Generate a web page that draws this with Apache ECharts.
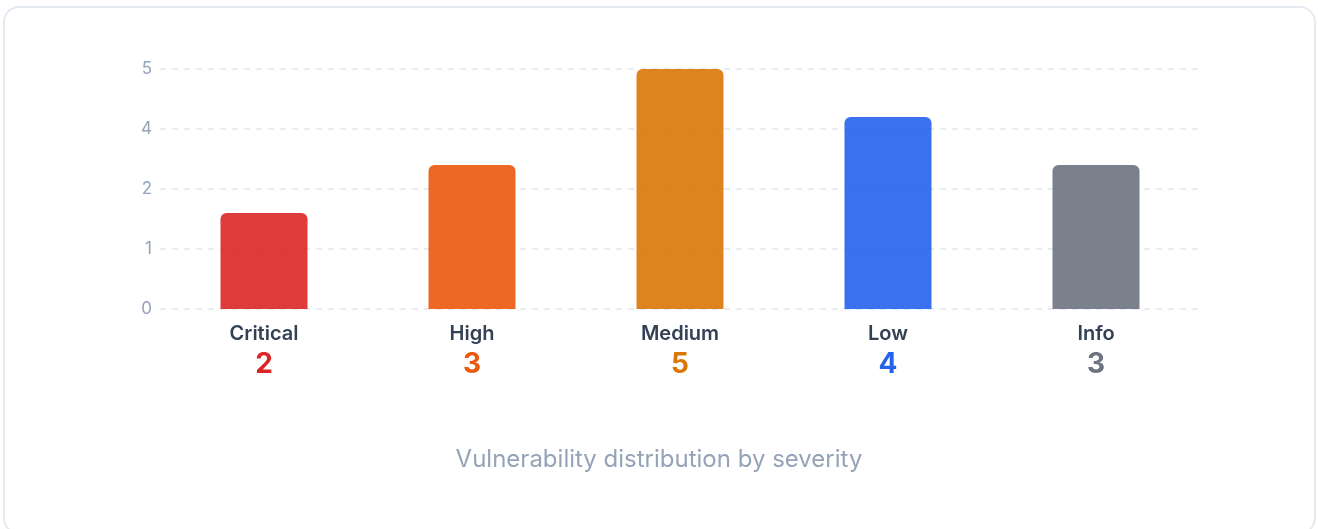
<!DOCTYPE html>
<html>
<head>
<meta charset="utf-8">
<script src="https://cdn.jsdelivr.net/npm/echarts@6/dist/echarts.min.js"></script>
<style>
  html, body { margin: 0; padding: 0; background: #ffffff; }
  .card {
    position: absolute; left: 3px; top: 6px; width: 1309px; height: 524px;
    border: 2px solid #e4e9f2; border-radius: 16px; background: #fff;
  }
  #chart { position: absolute; left: 0; top: 0; width: 1318px; height: 529px; }
</style>
</head>
<body>
<div class="card"></div>
<div id="chart"></div>
<script>
// severity counts
var categories = ['Critical', 'High', 'Medium', 'Low', 'Info'];
var counts = [2, 3, 5, 4, 3];
var yTickLabels = ['0', '1', '2', '4', '5'];
var barColors = ['#dc2626', '#ea580c', '#d97706', '#2563eb', '#6b7280'];
var numColors = ['#dc2626', '#ea580c', '#d97706', '#2563eb', '#6b7280'];
var subtitle = 'Vulnerability distribution by severity';

var rich = {
  name: { fontFamily: 'Inter', fontSize: 20, fontWeight: 600, color: '#334155', lineHeight: 30 }
};
numColors.forEach(function (c, i) {
  rich['n' + i] = { fontFamily: 'Inter', fontSize: 28, fontWeight: 700, color: c, lineHeight: 32 };
});

var chart = echarts.init(document.getElementById('chart'));
chart.setOption({
  animation: false,
  title: {
    text: subtitle,
    left: 'center',
    top: 443,
    textStyle: { fontFamily: 'Inter', fontSize: 24, fontWeight: 400, color: '#94a3b8' }
  },
  grid: { left: 160, right: 118, top: 69, bottom: 220 },
  xAxis: {
    type: 'category',
    data: categories,
    axisLine: { show: false },
    axisTick: { show: false },
    axisLabel: {
      margin: 10,
      formatter: function (v, i) {
        return '{name|' + v + '}\n{n' + i + '|' + counts[i] + '}';
      },
      rich: rich
    }
  },
  yAxis: {
    type: 'value',
    min: 0,
    max: 5,
    interval: 1.25,
    axisLine: { show: false },
    axisTick: { show: false },
    axisLabel: {
      margin: 8,
      fontFamily: 'Inter',
      fontSize: 17,
      color: '#94a3b8',
      formatter: function (v) {
        return yTickLabels[Math.round(v / 1.25)];
      }
    },
    splitLine: { lineStyle: { color: '#e2e8f0', type: [6, 6], width: 1.5 } }
  },
  series: [{
    type: 'bar',
    barWidth: 87,
    data: counts.map(function (v, i) {
      return { value: v, itemStyle: { color: barColors[i], opacity: 0.9, borderRadius: [6, 6, 0, 0] } };
    })
  }]
});
</script>
</body>
</html>
